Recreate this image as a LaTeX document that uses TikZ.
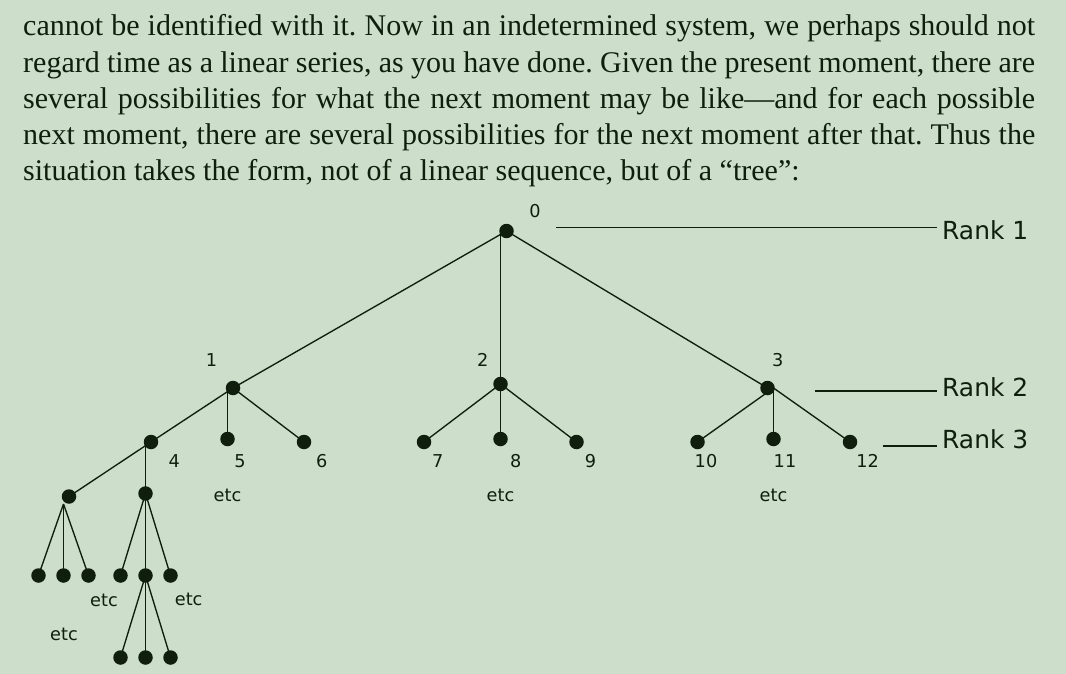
\documentclass[tikz,border=0pt]{standalone}
\usepackage{fontspec}
\setmainfont{Liberation Serif}
\newfontfamily\labelfont{DejaVu Sans}
\definecolor{paper}{RGB}{205,222,203}
\definecolor{ink}{RGB}{16,30,14}
\frenchspacing

\begin{document}
\begin{tikzpicture}[
        x=1pt, y=-1pt,
        moment/.style={circle, fill=ink, inner sep=0pt, minimum size=14.5pt},
        branch/.style={draw=ink, line width=1.35pt},
        num/.style={inner sep=0pt, anchor=base, text=ink, font=\labelfont\fontsize{17.7}{20}\selectfont},
        rank/.style={inner sep=0pt, anchor=base west, text=ink, font=\labelfont\fontsize{24.9}{28}\selectfont},
        rankline/.style={draw=ink, line width=1.4pt}
    ]

    % Page background
    \fill[paper] (0,0) rectangle (1066,674);

    % Running text above the tree
    \node[anchor=north west, inner sep=0pt, text width=1012pt, align=justify, text=ink,
          font=\fontsize{30}{36.2}\selectfont] (para) at (23,14.5)
        {cannot be identified with it. Now in an indetermined system, we perhaps should not\linebreak
         regard time as a linear series, as you have done. Given the present moment, there are\linebreak
         several possibilities for what the next moment may be like—and for each possible\linebreak
         next moment, there are several possibilities for the next moment after that. Thus the\linebreak
         situation takes the form, not of a linear sequence, but of a “tree”:};

    % Rank 1 : the present moment
    \node[moment] (m0) at (506.5,231) {};

    % Rank 2
    \node[moment] (m1) at (233,388) {};
    \node[moment] (m2) at (500.5,384) {};
    \node[moment] (m3) at (767.5,388) {};

    % Rank 3
    \node[moment] (m4) at (151,442) {};
    \node[moment] (m5) at (227.5,439) {};
    \node[moment] (m6) at (304,442) {};
    \node[moment] (m7) at (424,442) {};
    \node[moment] (m8) at (500.5,439) {};
    \node[moment] (m9) at (576.5,442) {};
    \node[moment] (m10) at (697.5,442) {};
    \node[moment] (m11) at (773.5,439) {};
    \node[moment] (m12) at (850,442) {};

    % Below moment 4
    \node[moment] (m4a) at (69,496.5) {};
    \node[moment] (m4b) at (145.5,493.5) {};
    \node[moment] (m4aa) at (38.5,575.5) {};
    \node[moment] (m4ab) at (63.5,575.5) {};
    \node[moment] (m4ac) at (88.5,575.5) {};
    \node[moment] (m4ba) at (120.5,575.5) {};
    \node[moment] (m4bb) at (145.5,575.5) {};
    \node[moment] (m4bc) at (170.5,575.5) {};
    \node[moment] (m4bba) at (120.5,657.5) {};
    \node[moment] (m4bbb) at (145.5,657.5) {};
    \node[moment] (m4bbc) at (170.5,657.5) {};

    % Branches
    \draw[branch] (m0.center) -- (m1.center);
    \draw[branch] (m2 |- m0) -- (m2.center);
    \draw[branch] (m0.center) -- (m3.center);

    \draw[branch] (m1.center) -- (m4.center);
    \draw[branch] (m5 |- m1) -- (m5.center);
    \draw[branch] (m1.center) -- (m6.center);
    \draw[branch] (m2.center) -- (m7.center);
    \draw[branch] (m2.center) -- (m8.center);
    \draw[branch] (m2.center) -- (m9.center);
    \draw[branch] (m11 |- m3) -- (m10.center);
    \draw[branch] (m11 |- m3) -- (m11.center);
    \draw[branch] (m11 |- m3) -- (m12.center);

    \draw[branch] (m4.center) -- (m4a.center);
    \draw[branch] (m4b |- m4) -- (m4b.center);
    \draw[branch] (m4ab |- m4a.south) -- (m4aa.center);
    \draw[branch] (m4ab |- m4a.south) -- (m4ab.center);
    \draw[branch] (m4ab |- m4a.south) -- (m4ac.center);
    \draw[branch] (m4b.center) -- (m4ba.center);
    \draw[branch] (m4b.center) -- (m4bb.center);
    \draw[branch] (m4b.center) -- (m4bc.center);
    \draw[branch] (m4bb.center) -- (m4bba.center);
    \draw[branch] (m4bb.center) -- (m4bbb.center);
    \draw[branch] (m4bb.center) -- (m4bbc.center);

    % Moment numbers
    \node[num] (l0) at (535,217.7) {0};
    \node[num] (l1) at (211.5,366.7) {1};
    \node[num] (l2) at (482.7,366.7) {2};
    \node[num] (l3) at (777.7,366.7) {3};
    \node[num] (l4) at (174.3,467.7) {4};
    \node[num] (l5) at (240,467.7) {5};
    \node[num] (l6) at (321.7,467.7) {6};
    \node[num] (l7) at (437.7,467.7) {7};
    \node[num] (l8) at (515.7,467.7) {8};
    \node[num] (l9) at (590.5,467.7) {9};
    \node[num] (l10) at (706,467.7) {10};
    \node[num] (l11) at (785,467.7) {11};
    \node[num] (l12) at (867.7,467.7) {12};

    % etc
    \node[num] (etc1) at (227.5,501) {etc};
    \node[num] (etc2) at (500.5,501) {etc};
    \node[num] (etc3) at (773.5,501) {etc};
    \node[num] (etc4) at (104,606.5) {etc};
    \node[num] (etc5) at (188.7,605.7) {etc};
    \node[num] (etc6) at (64,640) {etc};

    % Ranks
    \node[rank] (rank1) at (942,239) {Rank 1};
    \node[rank] (rank2) at (942,396) {Rank 2};
    \node[rank] (rank3) at (942,448) {Rank 3};
    \coordinate (r1s) at (556,227.3);
    \coordinate (r2s) at (815,391);
    \coordinate (r3s) at (883,445.7);
    \draw[rankline] (r1s) -- (r1s -| 937,0);
    \draw[rankline] (r2s) -- (r2s -| 937,0);
    \draw[rankline, line width=2pt] (r3s) -- (r3s -| 937,0);

\end{tikzpicture}
\end{document}
